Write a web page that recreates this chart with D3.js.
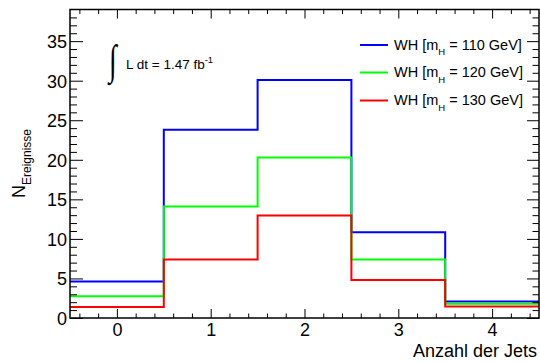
<!DOCTYPE html>
<html>
<head>
<meta charset="utf-8">
<script src="https://cdn.jsdelivr.net/npm/d3@7"></script>
<style>
  body { margin: 0; background: #fff; }
  svg { display: block; font-family: "Liberation Sans", Arial, sans-serif; }
</style>
</head>
<body>
<div id="chart"></div>
<script>
// bin centres (number of jets)
const jetBins = [0, 1, 2, 3, 4];
const wh110 = [4.6, 23.8, 30.1, 10.85, 2.1];
const wh120 = [2.75, 14.1, 20.3, 7.4, 1.8];
const wh130 = [1.4, 7.4, 12.95, 4.8, 1.45];
const seriesNames = ["WH [m|H| = 110 GeV]", "WH [m|H| = 120 GeV]", "WH [m|H| = 130 GeV]"];
const seriesColors = ["#0000ff", "#00ff00", "#ff0000"];
const xTicks = [0, 1, 2, 3, 4];
const yTicks = [0, 5, 10, 15, 20, 25, 30, 35];

const width = 540, height = 363;
const padL = 70, padR = 539, padT = 9.5, padB = 318;

const x = d3.scaleLinear().domain([-0.5, 4.5]).range([padL, padR]);
const y = d3.scaleLinear().domain([0, 39]).range([padB, padT]);

const svg = d3.select("#chart").append("svg")
  .attr("width", width).attr("height", height);

// histograms as step lines
const series = [wh110, wh120, wh130];
series.forEach((vals, i) => {
  const pts = [];
  vals.forEach((v, k) => {
    pts.push([jetBins[k] - 0.5, v]);
    pts.push([jetBins[k] + 0.5, v]);
  });
  svg.append("path")
    .attr("d", d3.line().x(d => x(d[0])).y(d => y(d[1]))(pts))
    .attr("fill", "none")
    .attr("stroke", seriesColors[i])
    .attr("stroke-width", 2);
});

// minor tick values
const xMinor = d3.range(-0.4, 4.45, 0.2).filter(v => Math.abs(v - Math.round(v)) > 1e-6);
const yMinor = d3.range(1, 39, 1).filter(v => v % 5 !== 0);

function styleAxis(g) {
  g.select(".domain").remove();
  g.selectAll("line").attr("stroke", "#000").attr("stroke-width", 1);
}

// bottom axis
svg.append("g").attr("transform", `translate(0,${padB})`)
  .call(d3.axisBottom(x).tickValues(xTicks).tickSize(-9).tickPadding(5).tickFormat(d3.format("d")))
  .call(styleAxis)
  .call(g => g.selectAll("text").attr("font-size", 18).attr("fill", "#000").attr("font-family", "Liberation Sans, Arial, sans-serif"));
svg.append("g").attr("transform", `translate(0,${padB})`)
  .call(d3.axisBottom(x).tickValues(xMinor).tickSize(-4.5).tickFormat(""))
  .call(styleAxis);
// top mirror
svg.append("g").attr("transform", `translate(0,${padT})`)
  .call(d3.axisTop(x).tickValues(xTicks).tickSize(-9).tickFormat(""))
  .call(styleAxis);
svg.append("g").attr("transform", `translate(0,${padT})`)
  .call(d3.axisTop(x).tickValues(xMinor).tickSize(-4.5).tickFormat(""))
  .call(styleAxis);

// left axis
svg.append("g").attr("transform", `translate(${padL},0)`)
  .call(d3.axisLeft(y).tickValues(yTicks).tickSize(-13).tickPadding(3).tickFormat(d3.format("d")))
  .call(styleAxis)
  .call(g => g.selectAll("text").attr("font-size", 18).attr("fill", "#000").attr("dy", "0.36em").attr("font-family", "Liberation Sans, Arial, sans-serif"));
svg.append("g").attr("transform", `translate(${padL},0)`)
  .call(d3.axisLeft(y).tickValues(yMinor).tickSize(-7).tickFormat(""))
  .call(styleAxis);
// right mirror
svg.append("g").attr("transform", `translate(${padR},0)`)
  .call(d3.axisRight(y).tickValues(yTicks).tickSize(-12).tickFormat(""))
  .call(styleAxis);
svg.append("g").attr("transform", `translate(${padR},0)`)
  .call(d3.axisRight(y).tickValues(yMinor).tickSize(-6.5).tickFormat(""))
  .call(styleAxis);

// frame
svg.append("rect")
  .attr("x", padL).attr("y", padT)
  .attr("width", padR - padL).attr("height", padB - padT)
  .attr("fill", "none").attr("stroke", "#000").attr("stroke-width", 1.5);

// axis titles
svg.append("text")
  .attr("x", 537).attr("y", 357)
  .attr("text-anchor", "end").attr("font-size", 18)
  .text("Anzahl der Jets");

const yt = svg.append("text")
  .attr("transform", "translate(25,198) rotate(-90)")
  .attr("font-size", 18);
yt.append("tspan").text("N");
yt.append("tspan").attr("font-size", 12).attr("dy", 5.5).text("Ereignisse");

// luminosity label
svg.append("text")
  .attr("transform", "translate(109,74) scale(1,1.5)")
  .attr("font-size", 28).attr("font-family", "Liberation Serif")
  .text("\u222B");
const lum = svg.append("text").attr("x", 126).attr("y", 69).attr("font-size", 13.5);
lum.append("tspan").text("L dt = 1.47 fb");
lum.append("tspan").attr("font-size", 9.5).attr("dy", -6).text("-1");

// legend
const legendY = [45, 72.5, 100.5];
seriesNames.forEach((name, i) => {
  svg.append("line")
    .attr("x1", 360).attr("x2", 388)
    .attr("y1", legendY[i]).attr("y2", legendY[i])
    .attr("stroke", seriesColors[i]).attr("stroke-width", 2);
  const parts = name.split("|");
  const t = svg.append("text")
    .attr("x", 394).attr("y", legendY[i] + 4.5)
    .attr("font-size", 14.5);
  t.append("tspan").text(parts[0]);
  t.append("tspan").attr("font-size", 9.5).attr("dy", 5.5).text(parts[1]);
  t.append("tspan").attr("dy", -5.5).text(parts[2]);
});
</script>
</body>
</html>
